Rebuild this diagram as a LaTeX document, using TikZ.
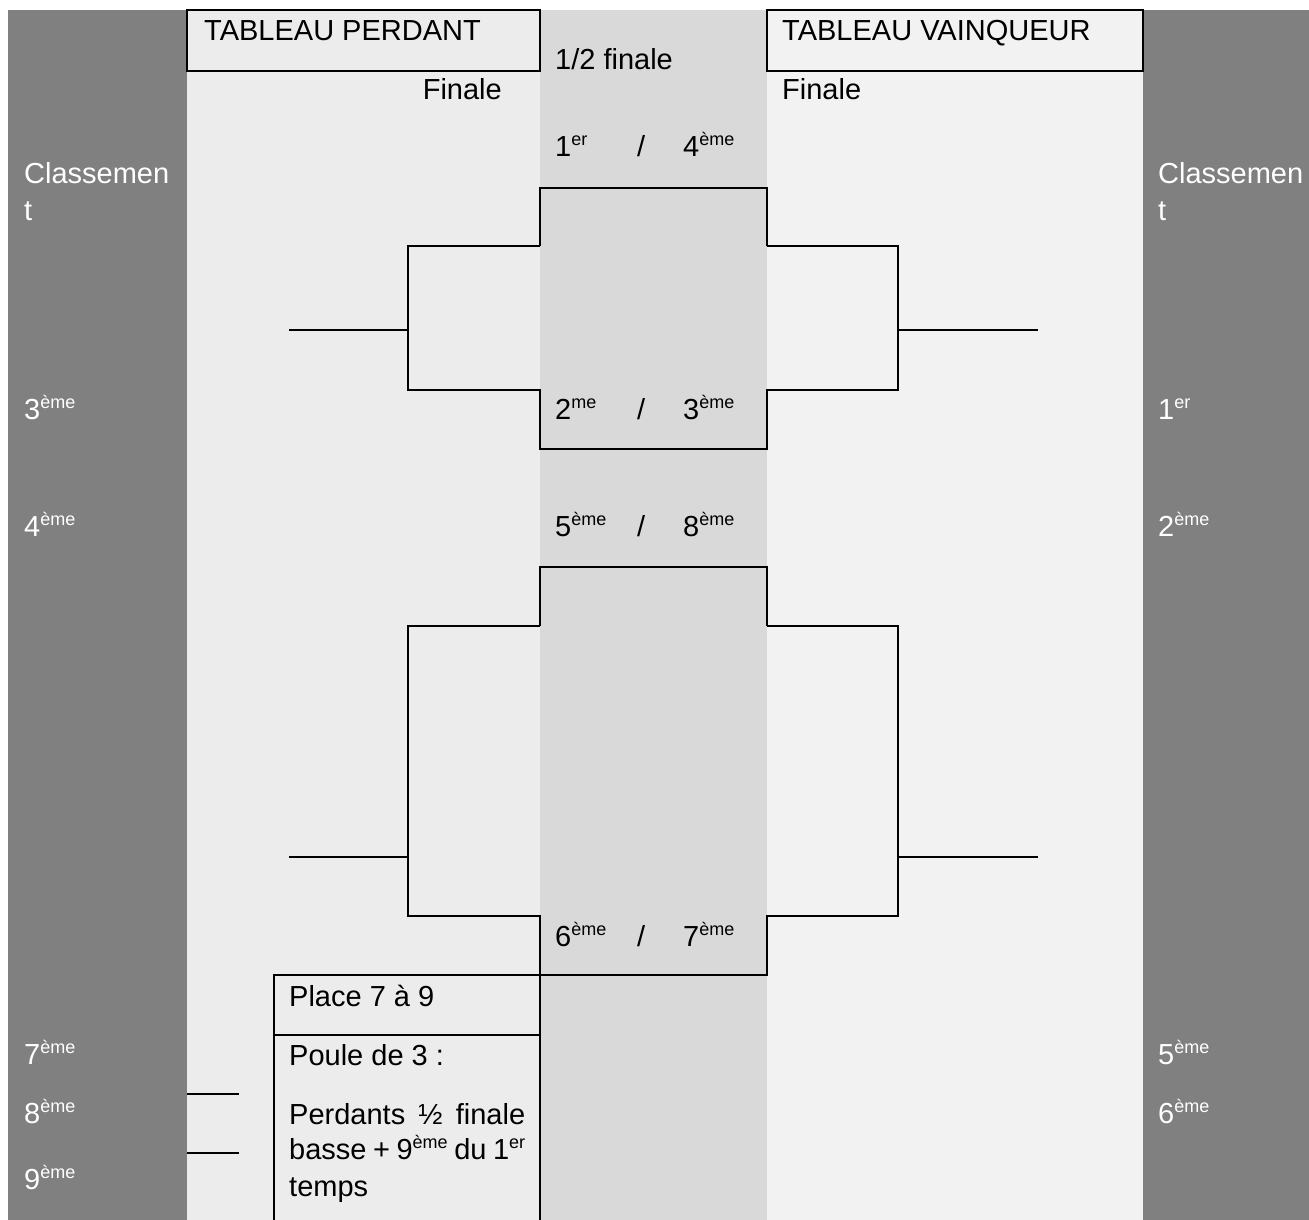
\documentclass[tikz,border=0pt]{standalone}
\usepackage{fontspec}
\setmainfont{Liberation Sans}
\usepackage{xcolor}
\definecolor{rkgray}{RGB}{128,128,128}
\definecolor{losebg}{RGB}{236,236,236}
\definecolor{semibg}{RGB}{217,217,217}
\definecolor{winbg}{RGB}{242,242,242}
\usepackage{tikz}
\usetikzlibrary{positioning}

\newcommand{\ex}[1]{\raisebox{11pt}{\fontsize{18}{18}\selectfont #1}}

\begin{document}
\begin{tikzpicture}[x=1pt, y=-1pt,
  lbl/.style={anchor=base west, inner sep=0pt, font=\fontsize{29}{35}\selectfont},
  wlbl/.style={lbl, text=white},
  brk/.style={line width=2.4pt, line join=miter}]

\useasboundingbox (0,0) rectangle (1309,1220);
\fill[white] (0,0) rectangle (1309,1220);

% Columns
\fill[rkgray] (8,10) rectangle (187,1220);
\fill[losebg] (187,10) rectangle (540,1220);
\fill[semibg] (540,10) rectangle (767,1220);
\fill[winbg] (767,10) rectangle (1143,1220);
\fill[rkgray] (1143,10) rectangle (1309,1220);

% Header boxes
\draw[brk, fill=losebg] (187,10) rectangle (540,71);
\draw[brk, fill=winbg] (767,10) rectangle (1143,71);
\node[lbl] (perdant) at (204,41) {TABLEAU PERDANT};
\node[lbl] (vainqueur) at (782,41) {TABLEAU VAINQUEUR};
\node[lbl] (demi) at (555,70) {1/2 finale};
\node[lbl, anchor=base east] (finaleL) at (502,100) {Finale};
\node[lbl] (finaleR) at (782,100) {Finale};

% Classement
\node[wlbl] (classL) at (24,183) {Classemen};
\node[wlbl] (classLt) at (24,220) {t};
\node[wlbl] (classR) at (1158,183) {Classemen};
\node[wlbl] (classRt) at (1158,220) {t};

% Half-final pairings
\node[lbl] (pairAa) at (555,157) {1\ex{er}};
\node[lbl] (pairAs) at (637,157) {/};
\node[lbl] (pairAb) at (683,157) {4\ex{ème}};
\node[lbl] (pairBa) at (555,419) {2\ex{me}};
\node[lbl] (pairBs) at (637,419) {/};
\node[lbl] (pairBb) at (683,419) {3\ex{ème}};
\node[lbl] (pairCa) at (555,536) {5\ex{ème}};
\node[lbl] (pairCs) at (637,536) {/};
\node[lbl] (pairCb) at (683,536) {8\ex{ème}};
\node[lbl] (pairDa) at (555,946) {6\ex{ème}};
\node[lbl] (pairDs) at (637,946) {/};
\node[lbl] (pairDb) at (683,946) {7\ex{ème}};

% Ranking labels
\node[wlbl] (rankL3) at (24,419) {3\ex{ème}};
\node[wlbl] (rankL4) at (24,536) {4\ex{ème}};
\node[wlbl] (rankL7) at (24,1064) {7\ex{ème}};
\node[wlbl] (rankL8) at (24,1123) {8\ex{ème}};
\node[wlbl] (rankL9) at (24,1189) {9\ex{ème}};
\node[wlbl] (rankR1) at (1158,419) {1\ex{er}};
\node[wlbl] (rankR2) at (1158,536) {2\ex{ème}};
\node[wlbl] (rankR5) at (1158,1064) {5\ex{ème}};
\node[wlbl] (rankR6) at (1158,1123) {6\ex{ème}};

% Upper bracket
\draw[brk] (540,246) -- (540,188) -- (767,188) -- (767,246);
\draw[brk] (540,246) -- (408,246) -- (408,390) -- (540,390) -- (540,449)
  -- (767,449) -- (767,390) -- (898,390) -- (898,246) -- (767,246);
\draw[brk] (289,330) -- (408,330);
\draw[brk] (898,330) -- (1038,330);

% Lower bracket
\draw[brk] (540,626) -- (540,567) -- (767,567) -- (767,626);
\draw[brk] (540,626) -- (408,626) -- (408,916) -- (540,916) -- (540,975)
  -- (767,975) -- (767,916) -- (898,916) -- (898,626) -- (767,626);
\draw[brk] (289,857) -- (408,857);
\draw[brk] (898,857) -- (1038,857);

% Places 7 to 9
\draw[brk] (274,1220) -- (274,975) -- (540,975) -- (540,1220);
\draw[brk] (274,1035) -- (540,1035);
\draw[brk] (187,1094) -- (239,1094);
\draw[brk] (187,1153) -- (239,1153);
\node[lbl] (place) at (289,1006) {Place 7 à 9};
\node[lbl] (poule) at (289,1065) {Poule de 3 :};
\node[lbl] (perdA) at (289,1124) {\makebox[236pt][s]{Perdants ½ finale}};
\node[lbl] (perdB) at (289,1159) {\makebox[236pt][s]{basse + 9\ex{ème} du 1\ex{er}}};
\node[lbl] (perdC) at (289,1196) {temps};

\end{tikzpicture}
\end{document}
